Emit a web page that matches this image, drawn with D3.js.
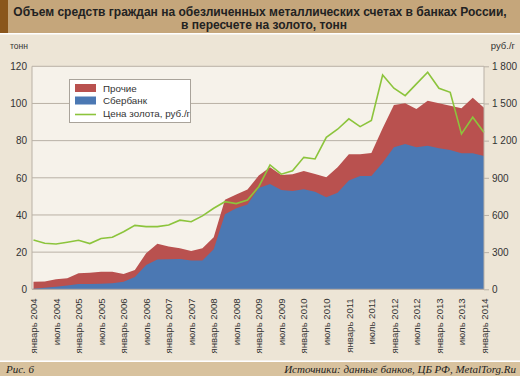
<!DOCTYPE html>
<html><head><meta charset="utf-8">
<script src="https://cdn.jsdelivr.net/npm/d3@7"></script>
<style>
html,body{margin:0;padding:0;background:#EDE5D6;}
svg{display:block;}
</style></head>
<body>
<svg id="c" width="520" height="376"></svg>
<script>
// Quarterly data, January 2004 .. January 2014
const sberbank = [0.3,0.9,1.4,2.0,2.9,2.9,3.0,3.3,4.1,6.6,13.1,16.0,16.2,16.3,15.5,15.5,21.5,40.4,43.6,45.6,54.5,56.7,53.4,52.9,53.8,52.5,49.5,52.0,58.5,61.0,61.0,68.1,76.4,78.2,76.4,77.3,75.9,75.0,73.2,73.2,71.7];
const total    = [4.1,4.2,5.4,5.9,8.6,8.9,9.5,9.5,8.2,10.4,19.4,24.5,23.0,22.1,20.6,22.1,28.0,48.2,51.0,53.7,61.2,65.7,61.5,61.9,63.7,62.0,60.3,65.7,72.7,72.7,73.3,86.6,99.2,100.1,97.0,101.5,100.1,98.8,97.4,103.1,97.7];
const others   = total.map((t,i)=>+(t - sberbank[i]).toFixed(1));
const goldPrice = [398,372,366,380,396,369,410,420,465,516,506,506,519,558,545,593,654,707,692,720,828,1004,929,956,1065,1052,1227,1292,1376,1313,1362,1730,1623,1563,1658,1752,1623,1590,1254,1389,1265];
const xLabels = ["январь 2004","июль 2004","январь 2005","июль 2005","январь 2006","июль 2006","январь 2007","июль 2007","январь 2008","июль 2008","январь 2009","июль 2009","январь 2010","июль 2010","январь 2011","июль 2011","январь 2012","июль 2012","январь 2013","июль 2013","январь 2014"];
const leftTicks = [0,20,40,60,80,100,120];
const rightTicks = [0,300,600,900,1200,1500,1800];
const legendItems = ["Прочие","Сбербанк","Цена золота, руб./г"];
const title1 = "Объем средств граждан на обезличенных металлических счетах в банках России,";
const title2 = "в пересчете на золото, тонн";

const svg = d3.select("#c");
const W=520,H=376;
const L=32,R=484,T=66.3,B=289.3;
const C={red:"#B9514F",blue:"#4B78B3",green:"#8CC43C",grid:"#B9B1A6",text:"#333"};

// background
svg.append("rect").attr("width",W).attr("height",H).attr("fill","#EDE5D6");
svg.append("rect").attr("x",0).attr("y",0).attr("width",W).attr("height",33).attr("fill","#C5A67B");
svg.append("rect").attr("x",0).attr("y",0).attr("width",8).attr("height",33).attr("fill","#8A561B");
svg.append("rect").attr("x",0).attr("y",33).attr("width",W).attr("height",1.5).attr("fill","#fff");
svg.append("rect").attr("x",0).attr("y",360.5).attr("width",W).attr("height",1.5).attr("fill","#fff");
svg.append("rect").attr("x",0).attr("y",362).attr("width",W).attr("height",14).attr("fill","#D8C29E");

const tf = "'Liberation Sans', Arial, sans-serif";
svg.append("text").attr("x",260).attr("y",15.5).attr("text-anchor","middle")
  .attr("font-family",tf).attr("font-weight","bold").attr("font-size",12).attr("fill","#222").text(title1);
svg.append("text").attr("x",264).attr("y",29).attr("text-anchor","middle")
  .attr("font-family",tf).attr("font-weight","bold").attr("font-size",12).attr("fill","#222").text(title2);

// footer
svg.append("text").attr("x",6).attr("y",372.5).attr("font-family","'Liberation Serif', serif").attr("font-style","italic")
  .attr("font-size",11).attr("fill","#222").text("Рис. 6");
svg.append("text").attr("x",516).attr("y",372.5).attr("text-anchor","end").attr("font-family","'Liberation Serif', serif").attr("font-style","italic")
  .attr("font-size",11).attr("fill","#222").text("Источники: данные банков, ЦБ РФ, MetalTorg.Ru");

// scales
const x = d3.scaleLinear().domain([0,40]).range([33.5,R]);
const y = d3.scaleLinear().domain([0,120]).range([B,T]);
const y2 = d3.scaleLinear().domain([0,1800]).range([B,T]);

// plot bg
svg.append("rect").attr("x",L).attr("y",T).attr("width",R-L).attr("height",B-T).attr("fill","#F6F2EA");

// gridlines
svg.append("g").selectAll("line").data(leftTicks).join("line")
  .attr("x1",L).attr("x2",R).attr("y1",d=>y(d)).attr("y2",d=>y(d))
  .attr("stroke",C.grid).attr("stroke-width",1);

// areas
const idx = d3.range(total.length);
const areaTotal = d3.area().x(i=>x(i)).y0(y(0)).y1(i=>y(sberbank[i]+others[i]));
const areaSber = d3.area().x(i=>x(i)).y0(y(0)).y1(i=>y(sberbank[i]));
svg.append("path").datum(idx).attr("d",areaTotal).attr("fill",C.red);
svg.append("path").datum(idx).attr("d",areaSber).attr("fill",C.blue);

// price line
svg.append("path").datum(idx).attr("d",d3.line().x(i=>x(i)).y(i=>y2(goldPrice[i])))
  .attr("fill","none").attr("stroke",C.green).attr("stroke-width",1.6).attr("stroke-linejoin","miter");

// axis frame
svg.append("line").attr("x1",L).attr("x2",L).attr("y1",T).attr("y2",B).attr("stroke",C.grid);
svg.append("line").attr("x1",R).attr("x2",R).attr("y1",T).attr("y2",B).attr("stroke",C.grid);
svg.append("line").attr("x1",L).attr("x2",R).attr("y1",B).attr("y2",B).attr("stroke",C.grid);

// left axis
const yl = d3.axisLeft(y).tickValues(leftTicks).tickSize(0).tickPadding(5);
const gl = svg.append("g").attr("transform",`translate(${L},0)`).call(yl);
gl.select(".domain").remove();
gl.selectAll("text").attr("font-family",tf).attr("font-size",10).attr("fill",C.text);

// right axis
const fmt = d=> d>=1000 ? d3.format(",")(d).replace(","," ") : String(d);
const yr = d3.axisRight(y2).tickValues(rightTicks).tickSize(5).tickPadding(3).tickFormat(fmt);
const gr = svg.append("g").attr("transform",`translate(${R},0)`).call(yr);
gr.select(".domain").remove();
gr.selectAll("line").attr("stroke",C.grid);
gr.selectAll("text").attr("font-family",tf).attr("font-size",10).attr("fill",C.text);

// unit labels
svg.append("text").attr("x",10).attr("y",49).attr("font-family",tf).attr("font-size",8.5).attr("fill",C.text).text("тонн");
svg.append("text").attr("x",515).attr("y",49).attr("text-anchor","end").attr("font-family",tf).attr("font-size",9.5).attr("fill",C.text).text("руб./г");

// x labels
const xl = d3.axisBottom(x).tickValues(d3.range(0,41,2)).tickSize(0).tickFormat((d,i)=>xLabels[i]);
const gx = svg.append("g").attr("transform",`translate(0,${B})`).call(xl);
gx.select(".domain").remove();
gx.selectAll("text").attr("font-family",tf).attr("font-size",9.6).attr("fill",C.text)
  .attr("transform","rotate(-90)").attr("text-anchor","end").attr("x",-9).attr("y",0).attr("dy","0.33em");

// legend
const lg = svg.append("g");
lg.append("rect").attr("x",69.5).attr("y",79.5).attr("width",121).attr("height",43).attr("fill","#fff").attr("stroke","#A9A39A");
const sw = [C.red,C.blue];
lg.selectAll("rect.sw").data(sw).join("rect").attr("class","sw")
  .attr("x",75).attr("y",(d,i)=>84+i*12.5).attr("width",21).attr("height",8).attr("fill",d=>d);
lg.append("line").attr("x1",75).attr("x2",96).attr("y1",114.5).attr("y2",114.5).attr("stroke",C.green).attr("stroke-width",1.6);
lg.selectAll("text").data(legendItems).join("text")
  .attr("x",103).attr("y",(d,i)=>91.5+i*12.5).attr("font-family",tf).attr("font-size",9.8).attr("fill",C.text).text(d=>d);
</script>
</body></html>
